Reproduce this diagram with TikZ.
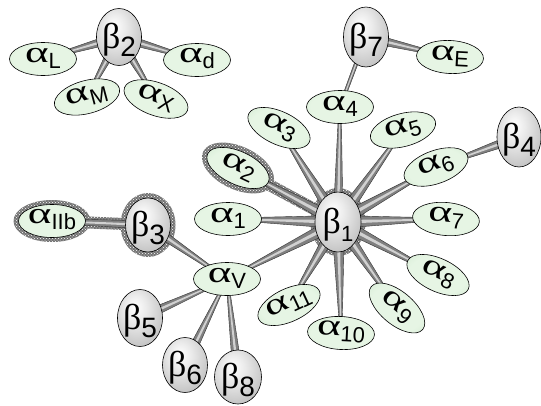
\documentclass[tikz,border=0pt]{standalone}
\usepackage{fontspec}
\setmainfont{Liberation Sans}
\newfontfamily\grk{Liberation Serif}
\usetikzlibrary{shapes.geometric,calc,patterns}
\pgfdeclarelayer{bg}\pgfdeclarelayer{halo}\pgfdeclarelayer{spk}
\pgfsetlayers{bg,halo,spk,main}
\definecolor{agreen}{RGB}{190,222,190}
\definecolor{alight}{RGB}{230,245,228}
\pgfdeclareradialshading{ashade}{\pgfpoint{0bp}{0bp}}{color(0bp)=(alight); color(22bp)=(alight); color(50bp)=(agreen); color(71bp)=(agreen)}
\pgfdeclareradialshading{bshade}{\pgfpoint{-6bp}{10bp}}{color(0bp)=(white); color(12bp)=(white!92!black); color(40bp)=(white!70!black); color(80bp)=(white!45!black)}
\tikzset{
  anode/.style={ellipse, draw=black, line width=0.6pt, shading=ashade, minimum width=67pt, minimum height=33pt, inner sep=0pt},
  bnode/.style={ellipse, draw=black, line width=0.6pt, shading=bshade, minimum width=45pt, minimum height=57pt, inner sep=0pt},
  lbl/.style={inner sep=0pt, font=\fontsize{30}{30}\selectfont},
  outerspk/.style={fill=white!50!black, draw=white!20!black, line width=0.4pt},
  innerspk/.style={fill=white!82!black},
  halonode/.style={ellipse, inner sep=0pt, preaction={fill=white!45!black}, pattern=crosshatch dots, pattern color=white},
  haloband/.style={preaction={fill=white!45!black}, pattern=crosshatch dots, pattern color=white},
}
\newcommand{\al}[1]{{\grk\scalebox{1.5}[1]{α}}\raisebox{-6pt}{\fontsize{22}{22}\selectfont #1}}
\newcommand{\be}[2][28]{{\grk\fontsize{36}{36}\selectfont β}\raisebox{-8pt}{\fontsize{#1}{#1}\selectfont #2}}
\newcommand{\Anode}[4]{%
  \node[anode, rotate=#3] (#1) at (#2) {};
  \node[lbl, rotate=#3] (#1-t) at ([yshift=1pt]#1.center) {#4};}
\newcommand{\Bnode}[5]{%
  \node[bnode, minimum width=#3, minimum height=#4] (#1) at (#2) {};
  \node[lbl] (#1-t) at ([yshift=-3pt]#1.center) {#5};}
\newcommand{\spoke}[4]{%
  \path[outerspk] ($(#1.center)!#3!90:(#2.center)$) -- ($(#2.center)!#4!-90:(#1.center)$) -- ($(#2.center)!#4!90:(#1.center)$) -- ($(#1.center)!#3!-90:(#2.center)$) -- cycle;
  \path[innerspk] ($(#1.center)!#3*0.3!90:(#2.center)$) -- ($(#2.center)!#4*0.3!-90:(#1.center)$) -- ($(#2.center)!#4*0.3!90:(#1.center)$) -- ($(#1.center)!#3*0.3!-90:(#2.center)$) -- cycle;}
\newcommand{\band}[3]{%
  \path[haloband] ($(#1.center)!#3!90:(#2.center)$) -- ($(#2.center)!#3!-90:(#1.center)$) -- ($(#2.center)!#3!90:(#1.center)$) -- ($(#1.center)!#3!-90:(#2.center)$) -- cycle;}
\begin{document}
\begin{tikzpicture}[x=1pt,y=-1pt]
\begin{pgfonlayer}{bg}
\fill[white] (0,0) rectangle (541,405);
\end{pgfonlayer}
\useasboundingbox (0,0) rectangle (541,405);
% beta nodes
\Bnode{b2}{119,37}{45pt}{57pt}{\be{2}}
\Bnode{b7}{366,37}{45pt}{60pt}{\be{7}}
\Bnode{b4}{519,137}{44pt}{60pt}{\be{4}}
\Bnode{b1}{338,222}{46pt}{60pt}{\be[22]{1}}
\Bnode{b3}{148,225}{45pt}{54pt}{\be{3}}
\Bnode{b5}{140,318}{45pt}{57pt}{\be{5}}
\Bnode{b6}{185,365}{45pt}{55pt}{\be{6}}
\Bnode{b8}{238,377}{47pt}{54pt}{\be{8}}
% alpha nodes
\Anode{aL}{43,59}{0}{\al{L}}
\Anode{ad}{197,60}{0}{\al{d}}
\Anode{aM}{87,97}{15}{\al{M}}
\Anode{aX}{156,99}{-20}{\al{X}}
\Anode{aE}{450,57}{-3}{\al{E}}
\Anode{a4}{340,107}{0}{\al{4}}
\Anode{a5}{403,130}{15}{\al{5}}
\Anode{a6}{436,167}{20}{\al{6}}
\Anode{a3}{279,128}{-25}{\al{3}}
\Anode{a2}{238,168}{-25}{\al{2}}
\Anode{a1}{228,219}{0}{\al{1}}
\Anode{a7}{446,219}{-5}{\al{7}}
\Anode{a8}{438,275}{-25}{\al{8}}
\Anode{a9}{397,308}{-40}{\al{9}}
\Anode{a10}{341,333}{-3}{\al{10}}
\Anode{a11}{289,305}{25}{\al{11}}
\Anode{aIIb}{52,221}{0}{\al{IIb}}
\Anode{aV}{227,279}{0}{\al{V}}
% halos
\begin{pgfonlayer}{halo}
\node[halonode, rotate=-25, minimum width=77pt, minimum height=43pt] (a2-h) at (a2.center) {};
\node[halonode, minimum width=77pt, minimum height=42pt] (aIIb-h) at (aIIb.center) {};
\node[halonode, minimum width=55pt, minimum height=64pt] (b3-h) at (b3.center) {};
\node[halonode, minimum width=55pt, minimum height=68pt] (b1-h) at (b1.center) {};
\band{a2}{b1}{6pt}
\band{aIIb}{b3}{6pt}
\end{pgfonlayer}
% spokes
\begin{pgfonlayer}{spk}
\foreach \a in {a1,a2,a3,a5,a6,a7,a8,a9,a10,a11,aV}{\spoke{b1}{\a}{6.5pt}{1pt}}
\spoke{b1}{a4}{5pt}{1.2pt}
\foreach \a in {aL,ad,aM,aX}{\spoke{b2}{\a}{5pt}{1pt}}
\spoke{b7}{a4}{2pt}{1.5pt}
\spoke{b7}{aE}{5pt}{1pt}
\spoke{b4}{a6}{5pt}{1pt}
\spoke{b3}{aV}{5pt}{1pt}
\spoke{b3}{aIIb}{4pt}{2.5pt}
\foreach \b in {b5,b6,b8}{\spoke{\b}{aV}{5pt}{1pt}}
\end{pgfonlayer}
\end{tikzpicture}
\end{document}
